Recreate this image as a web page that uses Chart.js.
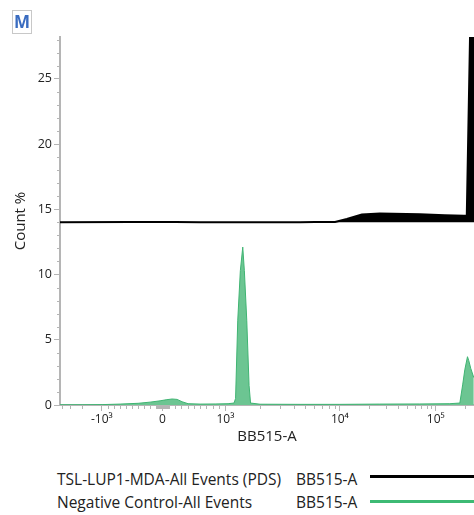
<!DOCTYPE html>
<html>
<head>
<meta charset="utf-8">
<script src="https://cdn.jsdelivr.net/npm/chart.js@4.4.1/dist/chart.umd.min.js"></script>
<style>
  body { margin: 0; background: #fff; font-family: 'Open Sans', 'Noto Sans', sans-serif; color: #222; }
  #wrap { position: relative; width: 474px; height: 515px; overflow: hidden; }
  #chart { position: absolute; left: 0; top: 0; }
  .mbox { position: absolute; left: 12px; top: 10px; width: 18px; height: 22px; border: 1px solid #c8c8c8;
          color: #3a6cc0; font-weight: bold; font-size: 17px; line-height: 22px; text-align: center; }
  .leg { position: absolute; font-size: 15.5px; line-height: 20px; white-space: nowrap; }
  .swatch { position: absolute; left: 370px; width: 104px; height: 3px; }
</style>
</head>
<body>
<div id="wrap">
  <canvas id="chart" width="474" height="450"></canvas>
  <div class="mbox">M</div>
  <div class="leg" style="left:57px;top:469px">TSL-LUP1-MDA-All Events (PDS)</div>
  <div class="leg" style="left:296px;top:469px">BB515-A</div>
  <div class="swatch" style="top:475px;background:#000"></div>
  <div class="leg" style="left:57px;top:492px">Negative Control-All Events</div>
  <div class="leg" style="left:296px;top:492px">BB515-A</div>
  <div class="swatch" style="top:500px;background:#3dba74"></div>
</div>
<script>
// BB515-A intensity (x) and Count % (y) for each histogram
const greenX = [-4300, -1990, -995, -698, -401, -203, -38, 59, 154, 233, 313, 408, 598, 837, 1056,
  1191, 1228, 1283, 1352, 1419, 1465, 1538, 1611, 1660, 2010, 4490, 10000, 26100, 68100, 140000,
  178000, 191000, 200500, 213800, 220600, 231400, 248700];
const greenY = [0.02, 0.02, 0.03, 0.07, 0.13, 0.22, 0.32, 0.4, 0.46, 0.43, 0.25, 0.1, 0.07, 0.08, 0.1,
  0.15, 0.5, 6.5, 10.3, 12.1, 10.3, 6.5, 1.5, 0.15, 0.06, 0.05, 0.05, 0.07, 0.08, 0.1,
  0.15, 1.6, 2.7, 3.7, 3.4, 2.8, 2.1];

// black overlay is drawn with a +14 offset
const blackX = [-4300, -532, -203, 200, 598, 4490, 6070, 9080, 11830, 16950, 26100, 68100, 124000,
  196000, 210300, 250000];
const blackY = [14, 14.02, 14.03, 14.03, 14, 14, 14.02, 14.02, 14.25, 14.6, 14.68, 14.62, 14.55,
  14.5, 14.5, 45];
const blackBase = 14;

const xTickValues = [-1000, 0, 1000, 10000, 100000];
const xTickLabels = ['-10³', '0', '10³', '10⁴', '10⁵'];
const xMinorValues = [-4000, -3000, -2000,
  -900, -800, -700, -600, -500, -400, -300, -200, -100,
  -90, -80, -70, -60, -50, -40, -30, -20, -10, 10, 20, 30, 40, 50, 60, 70, 80, 90,
  100, 200, 300, 400, 500, 600, 700, 800, 900,
  2000, 3000, 4000, 5000, 6000, 7000, 8000, 9000,
  20000, 30000, 40000, 50000, 60000, 70000, 80000, 90000, 200000];
const yTickValues = [0, 5, 10, 15, 20, 25];
const xMin = -4300, xMax = 250000, yMax = 28.2;

// biexponential-style display transform (linear around 0, log above 10^3)
function toDisplay(v) {
  if (v >= 0 && v <= 1000) return v / 1000 * 63;
  if (v < 0 && v >= -1000) return v / 1000 * 60.6;
  if (v < -1000) return -60.6 - (Math.log10(-v) - 3) * 66;
  const k = Math.log10(v);
  if (k <= 4) return 63 + (k - 3) * 114.5;
  return 63 + 114.5 + (k - 4) * 96;
}

const toPoints = (xs, ys) => xs.map((v, i) => ({ x: toDisplay(v), y: ys[i] }));

const minorTicks = {
  id: 'minorTicks',
  afterDraw(chart) {
    const { ctx, scales: { x, y } } = chart;
    ctx.save();
    ctx.strokeStyle = '#b5b5b5';
    ctx.lineWidth = 1;
    ctx.beginPath();
    xMinorValues.forEach(v => {
      const px = Math.round(x.getPixelForValue(toDisplay(v))) + 0.5;
      ctx.moveTo(px, x.top);
      ctx.lineTo(px, x.top + 4);
    });
    for (let v = 1; v < yMax; v++) {
      if (v % 5 === 0) continue;
      const py = Math.round(y.getPixelForValue(v)) + 0.5;
      ctx.moveTo(y.right - 3, py);
      ctx.lineTo(y.right, py);
    }
    ctx.stroke();
    ctx.restore();
  }
};

Chart.defaults.font.family = "'Open Sans', 'Noto Sans', sans-serif";
Chart.defaults.color = '#222';

const ctx = document.getElementById('chart').getContext('2d');
new Chart(ctx, {
  type: 'line',
  data: {
    datasets: [{
      label: 'TSL-LUP1-MDA-All Events (PDS)',
      data: toPoints(blackX, blackY),
      borderColor: '#000',
      backgroundColor: '#000',
      borderWidth: 2,
      fill: { value: blackBase },
      pointRadius: 0,
      tension: 0
    }, {
      label: 'Negative Control-All Events',
      data: toPoints(greenX, greenY),
      borderColor: '#3fb472',
      backgroundColor: '#6cc592',
      borderWidth: 1,
      fill: 'origin',
      pointRadius: 0,
      tension: 0
    }]
  },
  options: {
    responsive: false,
    animation: false,
    layout: { padding: { top: 37, right: 0, left: 0, bottom: 0 } },
    plugins: { legend: { display: false }, tooltip: { enabled: false } },
    scales: {
      x: {
        type: 'linear',
        min: toDisplay(xMin),
        max: toDisplay(xMax),
        afterFit: s => { s.height = 45; },
        afterBuildTicks: s => { s.ticks = xTickValues.map(v => ({ value: toDisplay(v) })); },
        ticks: {
          autoSkip: false,
          maxRotation: 0,
          padding: 1,
          font: { size: 12 },
          callback: (value, i) => xTickLabels[i]
        },
        grid: { drawOnChartArea: false, drawTicks: true, tickLength: 6, color: '#b5b5b5' },
        border: { color: '#b5b5b5', width: 2 },
        title: { display: true, text: 'BB515-A', font: { size: 15 }, padding: { top: 0, bottom: 4 } }
      },
      y: {
        min: 0,
        max: yMax,
        afterFit: s => { s.width = 60; },
        afterBuildTicks: s => { s.ticks = yTickValues.map(v => ({ value: v })); },
        ticks: { padding: 2, font: { size: 12.5 } },
        grid: { drawOnChartArea: false, drawTicks: true, tickLength: 6, color: '#b5b5b5' },
        border: { color: '#b5b5b5', width: 2 },
        title: { display: true, text: 'Count %', font: { size: 15 }, padding: { top: 12, bottom: 0 } }
      }
    }
  },
  plugins: [minorTicks]
});
</script>
</body>
</html>
